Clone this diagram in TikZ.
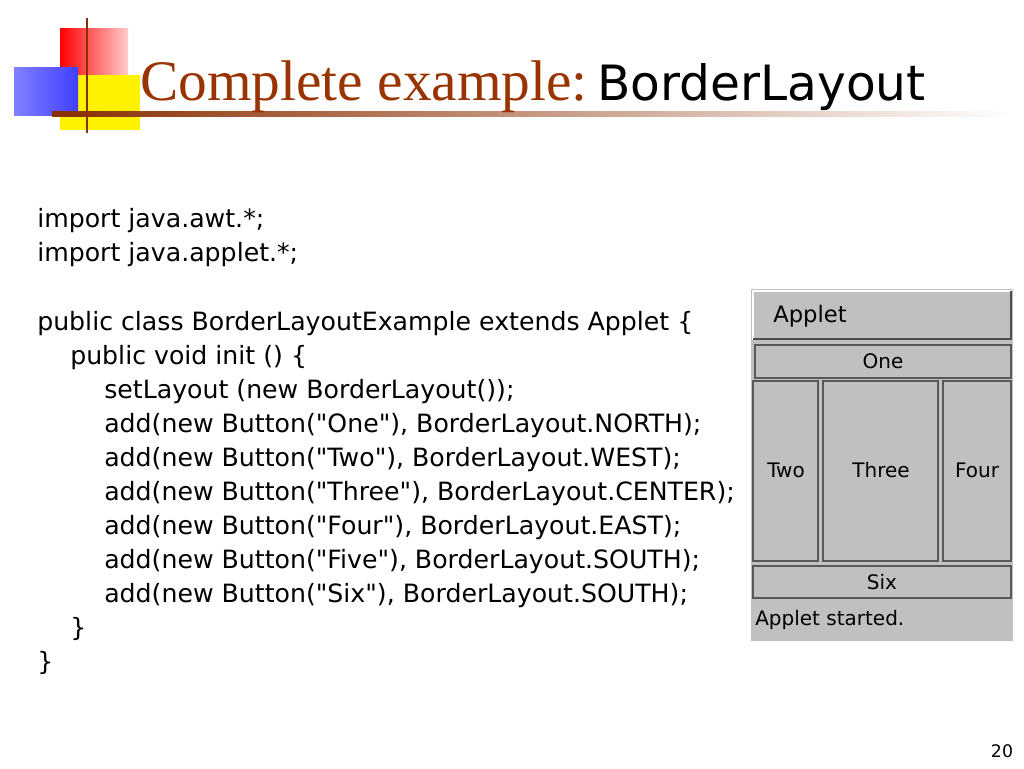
\documentclass[tikz,border=0pt]{standalone}
\usepackage{fontspec}
\setmainfont{DejaVu Sans}
\newfontfamily\tserif{Liberation Serif}
\newfontfamily\tsans{DejaVu Sans}
\usetikzlibrary{positioning}
\definecolor{tbrown}{HTML}{993300}
\definecolor{agray}{HTML}{C0C0C0}
\newcommand{\q}{\textquotedbl}
\tikzset{x=0.75pt,y=-0.75pt,
 btn/.style={draw=gray!70!black,line width=1pt,fill=agray},
 btxt/.style={font=\fontsize{15}{16}\selectfont,inner sep=0},
 code/.style={anchor=base west,inner sep=0,font=\fontsize{18.9}{20}\selectfont}}
\begin{document}
\begin{tikzpicture}
\useasboundingbox (0,0) rectangle (1024,768);
\fill[white] (0,0) rectangle (1024,768);
% logo
\shade[left color=red,right color=red!20] (60,28) rectangle (128,75);
\fill[yellow] (60,75) rectangle (140,130);
\shade[left color=blue!50,right color=blue!75] (14,67) rectangle (78,115);
\shade[left color=tbrown!90!black,right color=white] (52,111) rectangle (1010,116);
\draw[tbrown!90!black,line width=1.8pt] (87,18) -- (87,133);
% title
\node[anchor=base west,inner sep=0,text=tbrown,font=\tserif\fontsize{43}{45}\selectfont] (t1) at (140,100) {Complete example:};
\node[anchor=base west,inner sep=0,font=\tsans\fontsize{36.5}{38}\selectfont] (t2) at (597,100) {BorderLayout};
% code
\node[code] (c1) at (37,227) {import java.awt.*;};
\node[code] (c2) at (37,261) {import java.applet.*;};
\node[code] (c3) at (37,330) {public class BorderLayoutExample extends Applet \{};
\node[code] (c4) at (70,364) {public void init () \{};
\node[code] (c5) at (104,398) {setLayout (new BorderLayout());};
\node[code] (c6) at (104,432) {add(new Button(\q One\q), BorderLayout.NORTH);};
\node[code] (c7) at (104,466) {add(new Button(\q Two\q), BorderLayout.WEST);};
\node[code] (c8) at (104,500) {add(new Button(\q Three\q), BorderLayout.CENTER);};
\node[code] (c9) at (104,534) {add(new Button(\q Four\q), BorderLayout.EAST);};
\node[code] (c10) at (104,568) {add(new Button(\q Five\q), BorderLayout.SOUTH);};
\node[code] (c11) at (104,602) {add(new Button(\q Six\q), BorderLayout.SOUTH);};
\node[code] (c12) at (70,636) {\}};
\node[code] (c13) at (37,670) {\}};
% applet
\fill[agray] (751,289) rectangle (1013,641);
\draw[btn,draw=white] (753,291) rectangle (1011,339);
\draw[gray!60!black,line width=2pt] (753,339) -- (1011,339) -- (1011,291);
\node[btxt,anchor=west,font=\fontsize{17}{18}\selectfont] (ap) at (773,316) {Applet};
\draw[btn] (755,345) rectangle (1011,378); \node[btxt] (one) at (883,361) {One};
\draw[btn] (753,381) rectangle (818,561); \node[btxt] (two) at (786,470) {Two};
\draw[btn] (823,381) rectangle (938,561); \node[btxt] (three) at (881,470) {Three};
\draw[btn] (943,381) rectangle (1011,561); \node[btxt] (four) at (977,470) {Four};
\draw[btn] (753,566) rectangle (1011,598); \node[btxt] (six) at (882,582) {Six};
\node[btxt,anchor=west] (st) at (755,620) {Applet started.};
% page number
\node[inner sep=0,font=\fontsize{13}{14}\selectfont] (pg) at (1002,751) {20};
\end{tikzpicture}
\end{document}
